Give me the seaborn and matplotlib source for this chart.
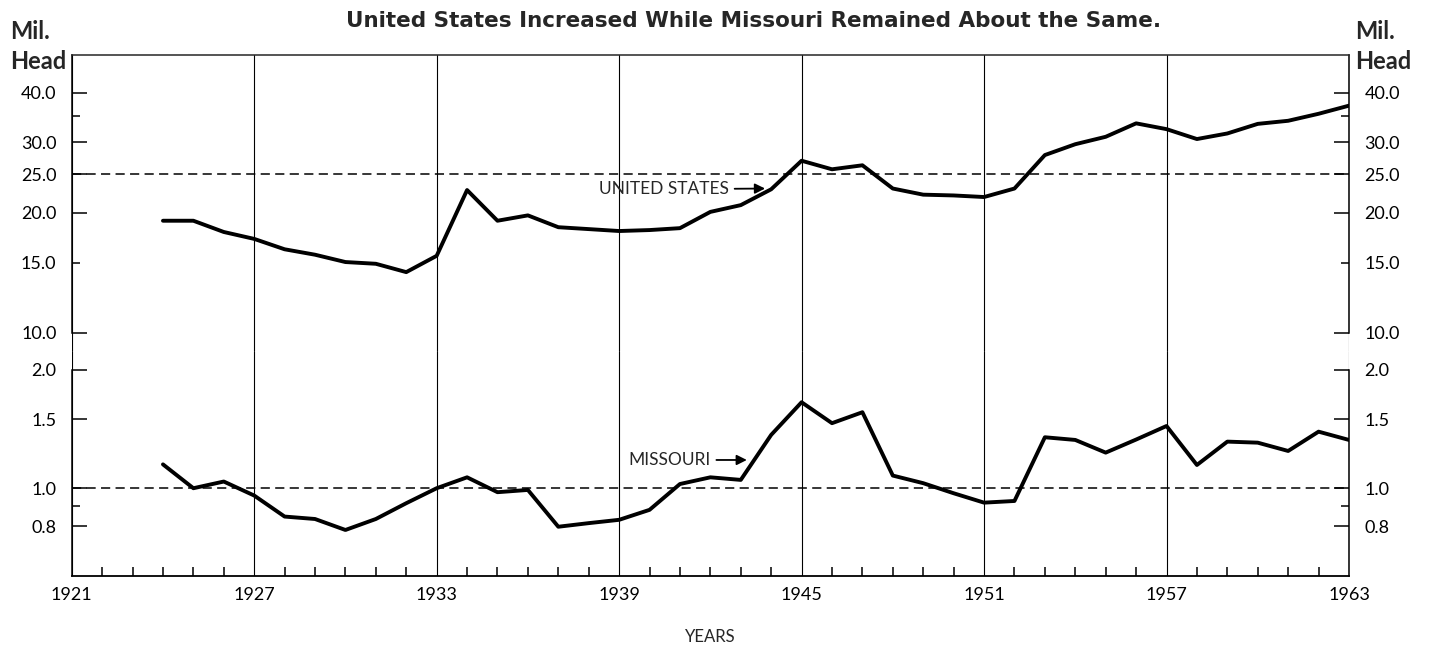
import numpy as np
import pandas as pd
import matplotlib
matplotlib.use("Agg")
import matplotlib.pyplot as plt
import matplotlib.ticker as mticker
import seaborn as sns

# cattle numbers, million head
years = list(range(1924, 1964))
us_cattle = [19.1, 19.1, 17.9, 17.2, 16.2, 15.7, 15.05, 14.9, 14.2, 15.6,
             22.8, 19.1, 19.7, 18.4, 18.2, 18.0, 18.1, 18.3, 20.1, 20.9,
             22.9, 27.0, 25.7, 26.3, 23.0, 22.2, 22.1, 21.9, 23.0, 27.9,
             29.7, 31.0, 33.5, 32.4, 30.6, 31.6, 33.4, 34.0, 35.4, 37.1]
mo_cattle = [1.15, 1.0, 1.04, 0.958, 0.847, 0.835, 0.783, 0.835, 0.916, 1.0,
             1.066, 0.977, 0.99, 0.798, 0.815, 0.831, 0.881, 1.025, 1.066, 1.05,
             1.367, 1.655, 1.464, 1.561, 1.077, 1.03, 0.971, 0.919, 0.928, 1.348,
             1.327, 1.232, 1.33, 1.44, 1.146, 1.314, 1.306, 1.244, 1.393, 1.327]

year_labels = [1921, 1927, 1933, 1939, 1945, 1951, 1957, 1963]
us_major = [10, 20, 25, 30, 40]
us_minor = [15, 35]
us_minor_labels = ["15.0", ""]
mo_major = [0.8, 1.0, 1.5, 2.0]
mo_minor = [0.9]
mo_minor_labels = [""]

title = "United States Increased While Missouri Remained About the Same."

df = pd.DataFrame({"year": years, "us": us_cattle, "mo": mo_cattle})

sns.set_style("ticks")
plt.rcParams['font.family'] = ['Lato', 'DejaVu Sans']

fig = plt.figure(figsize=(14.29, 6.46), dpi=100)
ax_top = fig.add_axes([0.0502, 0.4567, 0.8938, 0.4582])
ax_bot = fig.add_axes([0.0502, 0.1084, 0.8938, 0.3483])

sns.lineplot(data=df, x="year", y="us", ax=ax_top, color="black", linewidth=2.8)
sns.lineplot(data=df, x="year", y="mo", ax=ax_bot, color="black", linewidth=2.8)

for ax, lo, hi, bound_lo, bound_hi, major, minor, minor_lab, ref in [
        (ax_top, 9.01, 49.7, 10, 49.7, us_major, us_minor, us_minor_labels, 25),
        (ax_bot, 0.598, 2.235, 0.598, 2.0, mo_major, mo_minor, mo_minor_labels, 1.0)]:
    ax.set_yscale("log")
    ax.set_ylim(lo, hi)
    ax.set_xlim(year_labels[0], year_labels[-1])
    ax.yaxis.set_major_locator(mticker.FixedLocator(major))
    ax.yaxis.set_major_formatter(mticker.FuncFormatter(lambda v, p: f"{v:.1f}"))
    ax.yaxis.set_minor_locator(mticker.FixedLocator(minor))
    ax.yaxis.set_minor_formatter(mticker.FixedFormatter(minor_lab))
    ax.tick_params(axis="y", which="major", direction="in", length=11, width=1.1,
                   left=True, right=True, labelleft=True, labelright=True,
                   pad=11, labelsize=13, color="black", labelcolor="black")
    ax.tick_params(axis="y", which="minor", direction="in", length=5.5, width=1.1,
                   left=True, right=True, labelleft=True, labelright=True,
                   pad=11, labelsize=13, color="black", labelcolor="black")
    ax.xaxis.set_major_locator(mticker.FixedLocator(year_labels))
    ax.grid(axis="x", which="major", color="black", linewidth=0.8)
    ax.axhline(ref, color="black", linewidth=1.1, linestyle=(0, (6, 3.5)))
    for side in ["left", "right"]:
        ax.spines[side].set_bounds(bound_lo, bound_hi)
        ax.spines[side].set_linewidth(1.1)
        ax.spines[side].set_color("black")
    ax.set_xlabel("")
    ax.set_ylabel("")

ax_top.spines["bottom"].set_visible(False)
ax_top.spines["top"].set_linewidth(1.1)
ax_top.tick_params(axis="x", which="both", bottom=False, top=False, labelbottom=False)

ax_bot.spines["top"].set_visible(False)
ax_bot.spines["bottom"].set_linewidth(1.3)
ax_bot.spines["bottom"].set_color("black")
ax_bot.xaxis.set_minor_locator(mticker.MultipleLocator(1))
ax_bot.tick_params(axis="x", which="major", length=0, pad=8, labelsize=13, labelcolor="black")
ax_bot.tick_params(axis="x", which="minor", direction="in", length=6.5, width=1.1, color="black")
ax_bot.set_xlabel("YEARS", fontsize=12, labelpad=19)

arrow = dict(arrowstyle="-|>", color="black", lw=1.3, shrinkA=2, shrinkB=0, mutation_scale=15)
ax_top.annotate("UNITED STATES", xy=(1943.8, 23.0), xytext=(1942.6, 22.9),
                ha="right", va="center", fontsize=12.5, arrowprops=arrow)
ax_bot.annotate("MISSOURI", xy=(1943.2, 1.18), xytext=(1942.0, 1.18),
                ha="right", va="center", fontsize=12.5, arrowprops=arrow)

fig.text(0.527, 0.968, title, ha="center", va="center", fontsize=15.5,
         fontweight="bold", family=["DejaVu Sans"])
fig.text(10 / 1429, 1 - 20 / 646, "Mil.\nHead", ha="left", va="top",
         fontsize=17, fontweight="bold", linespacing=1.35)
fig.text(1355 / 1429, 1 - 20 / 646, "Mil.\nHead", ha="left", va="top",
         fontsize=17, fontweight="bold", linespacing=1.35)

fig.savefig("out.png", dpi=100)
